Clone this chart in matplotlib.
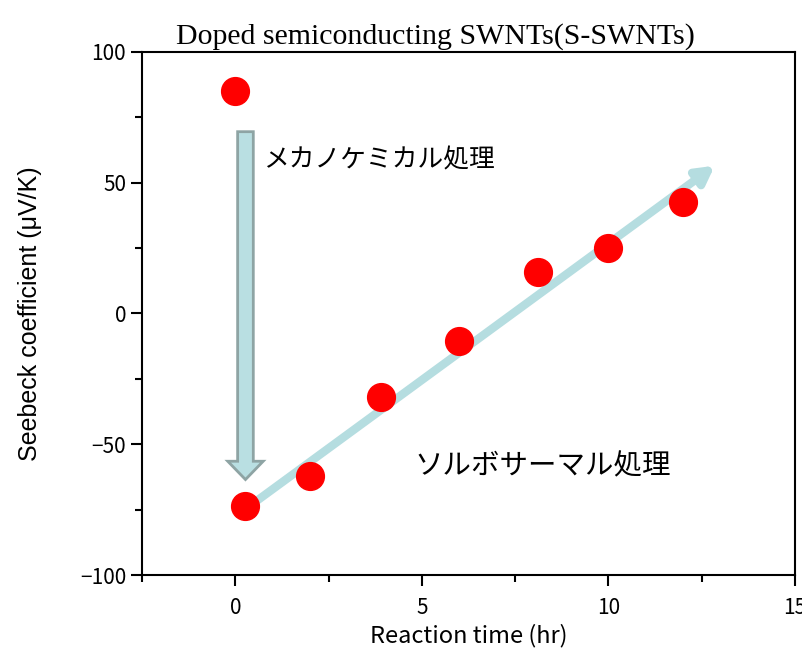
import matplotlib.pyplot as plt
from matplotlib.patches import FancyArrow
from matplotlib.ticker import MultipleLocator

plt.rcParams['font.family'] = ['Noto Sans CJK JP', 'DejaVu Sans']

# data
time_hr = [0.0, 0.25, 2.0, 3.9, 6.0, 8.1, 10.0, 12.0]
seebeck = [85, -73.5, -62, -32, -10.5, 16, 25, 42.5]

title = "Doped semiconducting SWNTs(S-SWNTs)"
xlabel = "Reaction time (hr)"
ylabel = "Seebeck coefficient (μV/K)"
label_mech = "メカノケミカル処理"
label_solvo = "ソルボサーマル処理"

fig = plt.figure(figsize=(8.03, 6.49), dpi=100, facecolor="white")
ax = fig.add_axes([0.177, 0.114, 0.813, 0.806])

# big vertical arrow (mechanochemical step)
ax.add_patch(FancyArrow(0.27, 69.5, 0, -133, width=0.42, head_width=0.95,
                        head_length=7, length_includes_head=True,
                        facecolor="#b9dfe2", edgecolor="#8ea4a4", lw=2, zorder=2))

# trend arrow (solvothermal)
ax.annotate("", xy=(12.85, 56.5), xytext=(0.25, -75),
            arrowprops=dict(arrowstyle="-|>,head_length=1.0,head_width=0.55",
                            lw=6, color="#b5dde0", shrinkA=0, shrinkB=0),
            zorder=2)

ax.plot(time_hr, seebeck, "o", color="#ff0000", markersize=20, zorder=3)

ax.text(0.75, 58.5, label_mech, fontsize=18.5, va="center", ha="left")
ax.text(4.8, -58.5, label_solvo, fontsize=20.5, va="center", ha="left")

ax.set_xlim(-2.5, 15)
ax.set_ylim(-100, 100)
ax.xaxis.set_major_locator(MultipleLocator(5))
ax.xaxis.set_minor_locator(MultipleLocator(2.5))
ax.yaxis.set_major_locator(MultipleLocator(50))
ax.yaxis.set_minor_locator(MultipleLocator(25))
ax.tick_params(which="both", direction="out", width=1.5, labelsize=15,
               top=False, right=False)
ax.tick_params(which="major", length=8)
ax.tick_params(which="minor", length=5)
ax.tick_params(axis="x", pad=8)
for s in ax.spines.values():
    s.set_linewidth(1.5)

ax.set_xlabel(xlabel, fontsize=17, labelpad=3)
ax.set_ylabel(ylabel, family="Liberation Sans", fontsize=18, labelpad=27)
ax.set_title(title, family="Liberation Serif", fontsize=21.5, pad=6, x=0.45)

fig.savefig("out.png", dpi=100, facecolor="white")
